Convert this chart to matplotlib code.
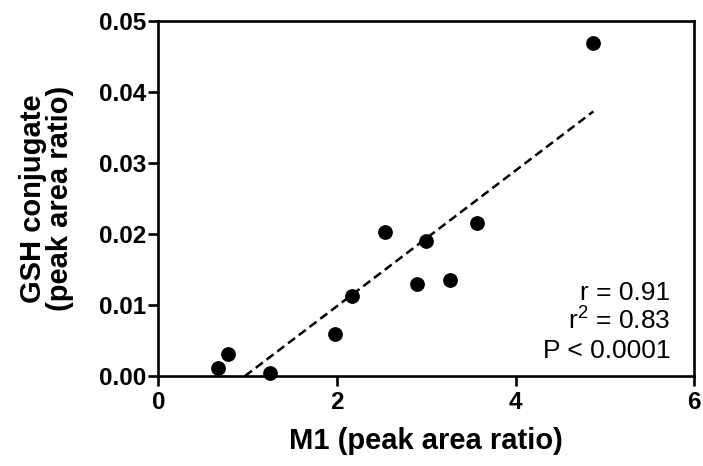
import matplotlib
matplotlib.use("Agg")
import matplotlib.pyplot as plt
import numpy as np

m1 = [4.87, 3.57, 2.54, 3.00, 2.90, 3.27, 2.165, 1.98, 0.777, 0.672, 1.25]
gsh = [0.0469, 0.0216, 0.0202, 0.0190, 0.0129, 0.0135, 0.01126, 0.0059, 0.00305, 0.00108, 0.00038]
xticks = [0, 2, 4, 6]
yticks = [0.00, 0.01, 0.02, 0.03, 0.04, 0.05]
stats = ["r = 0.91", "r$^2$ = 0.83", "P < 0.0001"]

plt.rcParams['font.family'] = ['Liberation Sans', 'DejaVu Sans']
plt.rcParams['mathtext.fontset'] = 'custom'
plt.rcParams['mathtext.rm'] = 'Liberation Sans'

W, H = 703, 466
fig = plt.figure(figsize=(W / 100, H / 100), dpi=100)
left, right, top, bottom = 158.3, 694.3, 20.7, 376.0
ax = fig.add_axes([left / W, 1 - bottom / H, (right - left) / W, (bottom - top) / H])

x = np.array(m1)
y = np.array(gsh)
slope, intercept = np.polyfit(x, y, 1)
x0 = -intercept / slope
xl = np.array([x0, x.max()])
ax.plot(xl, slope * xl + intercept, color='black', lw=1.8, ls=(0, (3.5, 1.9)), zorder=2)
ax.plot(x, y, 'o', color='black', ms=9.6, zorder=3, clip_on=False)

ax.set_xlim(0, 6)
ax.set_ylim(0, 0.05)
ax.set_xticks(xticks)
ax.set_yticks(yticks)
ax.set_xticklabels([str(t) for t in xticks])
ax.set_yticklabels([f"{t:.2f}" for t in yticks])
for s in ax.spines.values():
    s.set_linewidth(1.9)
ax.tick_params(direction='out', length=7, width=1.9, labelsize=17.5)
ax.tick_params(axis='x', pad=4)
ax.tick_params(axis='y', pad=2)
for lab in ax.get_xticklabels() + ax.get_yticklabels():
    lab.set_fontweight('bold')

ax.set_xlabel("M1 (peak area ratio)", fontsize=21, fontweight='bold', labelpad=9)
ax.set_ylabel("GSH conjugate\n(peak area ratio)", fontsize=21, fontweight='bold', linespacing=0.95)
ax.yaxis.set_label_coords(-0.158, 0.5)

ph = bottom - top
baselines = [300, 329, 358]
for txt, b in zip(stats, baselines):
    ax.text(0.9547, (bottom - b) / ph, txt, transform=ax.transAxes, ha='right',
            va='baseline', fontsize=19)

fig.savefig("out.png", dpi=100)
